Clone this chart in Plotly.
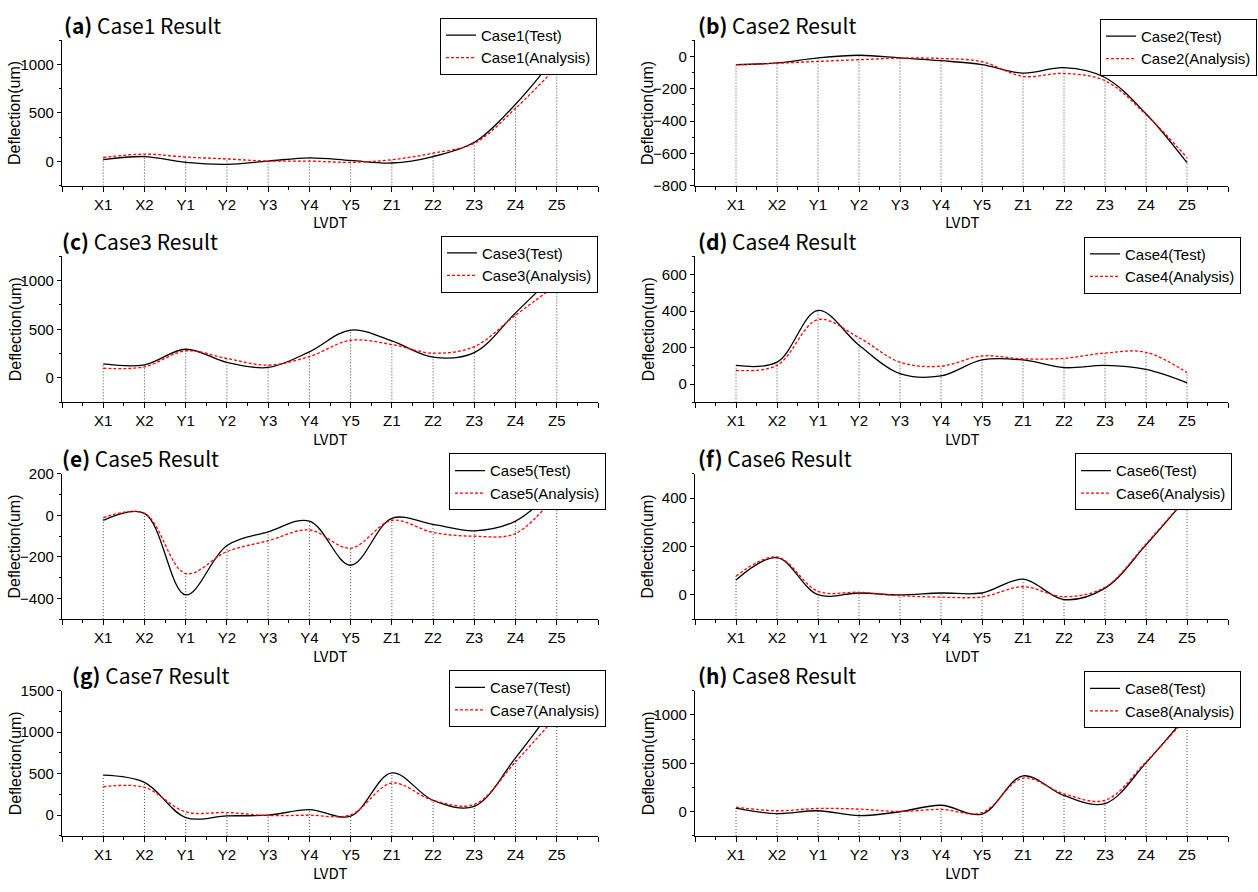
import plotly.graph_objects as go

W, H = 1258, 892

categories = ["X1", "X2", "Y1", "Y2", "Y3", "Y4", "Y5", "Z1", "Z2", "Z3", "Z4", "Z5"]

case1_test = [17, 50, -10, -30, 3, 37, 10, -17, 50, 197, 590, 1100]
case1_analysis = [40, 75, 45, 25, 3, 3, -10, 17, 85, 187, 548, 976]
case2_test = [-50, -40, -8, 8, -8, -26, -50, -103, -69, -130, -355, -658]
case2_analysis = [-52, -42, -30, -20, -10, -12, -32, -123, -105, -150, -360, -626]
case3_test = [145, 135, 295, 160, 108, 268, 492, 380, 214, 261, 668, 1080]
case3_analysis = [100, 115, 278, 200, 132, 220, 387, 343, 255, 322, 645, 957]
case4_test = [102, 120, 403, 213, 57, 45, 132, 132, 90, 102, 80, 7]
case4_analysis = [75, 102, 353, 254, 120, 98, 154, 138, 141, 170, 174, 63]
case5_test = [-24, 10, -383, -145, -79, -27, -240, -14, -43, -74, -27, 140]
case5_analysis = [-11, 10, -280, -174, -122, -70, -158, -24, -82, -100, -87, 107]
case6_test = [62, 154, 1, 8, 0, 8, 8, 65, -19, 28, 207, 403]
case6_analysis = [78, 157, 15, 11, -3, -9, -8, 34, -7, 32, 211, 405]
case7_test = [482, 395, -28, -8, 0, 67, -12, 510, 178, 107, 691, 1350]
case7_analysis = [343, 336, 40, 32, -4, 0, 4, 387, 178, 130, 643, 1196]
case8_test = [37, -20, 10, -40, 0, 67, -24, 370, 168, 84, 505, 1000]
case8_analysis = [47, 10, 34, 27, 3, 24, -10, 347, 185, 118, 515, 976]

panel_letters = ["(a)", "(b)", "(c)", "(d)", "(e)", "(f)", "(g)", "(h)"]
case_names = ["Case1", "Case2", "Case3", "Case4", "Case5", "Case6", "Case7", "Case8"]
tests = [case1_test, case2_test, case3_test, case4_test,
         case5_test, case6_test, case7_test, case8_test]
analyses = [case1_analysis, case2_analysis, case3_analysis, case4_analysis,
            case5_analysis, case6_analysis, case7_analysis, case8_analysis]
y_ranges = [[-250, 1250], [-800, 100], [-250, 1250], [-100, 700],
            [-500, 200], [-100, 500], [-250, 1500], [-250, 1250]]
y_dticks = [500, 200, 500, 200, 200, 200, 500, 500]

# layout geometry (pixels)
col_x = [(62, 598), (695, 1228)]
row_y = [(32, 180), (252, 401), (474, 622), (695, 843)]
legend_pos = [(597, 9), (1257, 10), (598, 231), (1241, 232),
              (606, 453), (1232, 453), (606, 674), (1241, 675)]
title_x = [62, 696, 60, 696, 60, 696, 70, 696]

TICK_FONT = dict(family="Liberation Sans, Arial", size=15, color="black")
TITLE_FAMILY = "Noto Sans CJK KR, Noto Sans, sans-serif"

fig = go.Figure()
annotations = []
layout = dict(
    width=W, height=H,
    margin=dict(l=0, r=0, t=0, b=0),
    paper_bgcolor="white", plot_bgcolor="white",
    showlegend=True,
)

xs = list(range(len(categories)))

for i in range(8):
    r, c = i // 2, i % 2
    n = "" if i == 0 else str(i + 1)
    x0, x1 = col_x[c]
    yt, yb = row_y[r]
    ymin, ymax = y_ranges[i]

    # dotted drop lines from the x axis up to each LVDT reading
    dx, dy = [], []
    for k in xs:
        dx += [k, k, None]
        dy += [ymin, max(tests[i][k], analyses[i][k]), None]
    fig.add_trace(go.Scatter(x=dx, y=dy, mode="lines",
                             line=dict(color="#444444", width=1, dash="1px,2px"),
                             xaxis="x" + n, yaxis="y" + n, showlegend=False,
                             hoverinfo="skip"))

    fig.add_trace(go.Scatter(x=xs, y=tests[i], mode="lines",
                             name=f"{case_names[i]}(Test)",
                             line=dict(color="black", width=1.3, shape="spline", smoothing=1.0),
                             xaxis="x" + n, yaxis="y" + n,
                             legend="legend" + n))
    fig.add_trace(go.Scatter(x=xs, y=analyses[i], mode="lines",
                             name=f"{case_names[i]}(Analysis)",
                             line=dict(color="red", width=1.3, shape="spline", smoothing=1.0,
                                       dash="3px,2px"),
                             xaxis="x" + n, yaxis="y" + n,
                             legend="legend" + n))

    layout["xaxis" + n] = dict(
        domain=[x0 / W, x1 / W], anchor="y" + n,
        range=[-1, 12], tickmode="array",
        tickvals=[-1] + xs + [12], ticktext=[""] + categories + [""],
        ticks="outside", ticklen=5, tickwidth=1, tickcolor="black",
        showline=True, linecolor="black", linewidth=1.2,
        showgrid=False, zeroline=False, tickfont=TICK_FONT,
        minor=dict(tickmode="array", tickvals=[k + 0.5 for k in range(-1, 12)],
                   ticks="outside", ticklen=3, tickcolor="black", showgrid=False),
        fixedrange=True,
    )
    layout["yaxis" + n] = dict(
        domain=[1 - yb / H, 1 - yt / H], anchor="x" + n,
        range=[ymin, ymax], tick0=0, dtick=y_dticks[i],
        ticks="outside", ticklen=4, tickwidth=1, tickcolor="black",
        showline=True, linecolor="black", linewidth=1.2,
        showgrid=False, zeroline=False, tickfont=TICK_FONT,
        minor=dict(tick0=0, dtick=y_dticks[i] / 2, ticks="outside", ticklen=2,
                   tickcolor="black", showgrid=False),
        fixedrange=True,
    )
    lx, ly = legend_pos[i]
    layout["legend" + n] = dict(
        x=lx / W, y=1 - ly / H, xanchor="right", yanchor="top",
        xref="paper", yref="paper",
        bgcolor="white", bordercolor="black", borderwidth=1,
        font=TICK_FONT, traceorder="normal",
    )

    # panel title
    annotations.append(dict(
        text=f"<b>{panel_letters[i]}</b> {case_names[i]} Result",
        x=title_x[i] / W, y=1 - (yt - 16) / H, xref="paper", yref="paper",
        xanchor="left", yanchor="middle", showarrow=False,
        font=dict(family=TITLE_FAMILY, size=21, color="black"),
    ))
    # x axis title
    annotations.append(dict(
        text="LVDT", x=((x0 + x1) / 2) / W, y=1 - (yb + 37) / H,
        xref="paper", yref="paper", xanchor="center", yanchor="middle",
        showarrow=False, font=dict(family=TITLE_FAMILY, size=15, color="black"),
    ))
    # y axis title
    annotations.append(dict(
        text="Deflection(um)", x=(x0 - 47) / W, y=1 - ((yt + yb) / 2) / H,
        xref="paper", yref="paper", xanchor="center", yanchor="middle",
        textangle=-90, showarrow=False,
        font=dict(family="Liberation Sans, Arial", size=16, color="black"),
    ))

layout["annotations"] = annotations
fig.update_layout(**layout)
fig.write_html(
    "out.html",
    config={"displayModeBar": False},
    post_script=(
        "document.body.style.margin='0px';"
        "document.body.style.overflow='hidden';"
        "var gd=document.getElementById('{plot_id}');"
        "gd.style.position='fixed';gd.style.top='0px';gd.style.left='0px';"
    ),
)
